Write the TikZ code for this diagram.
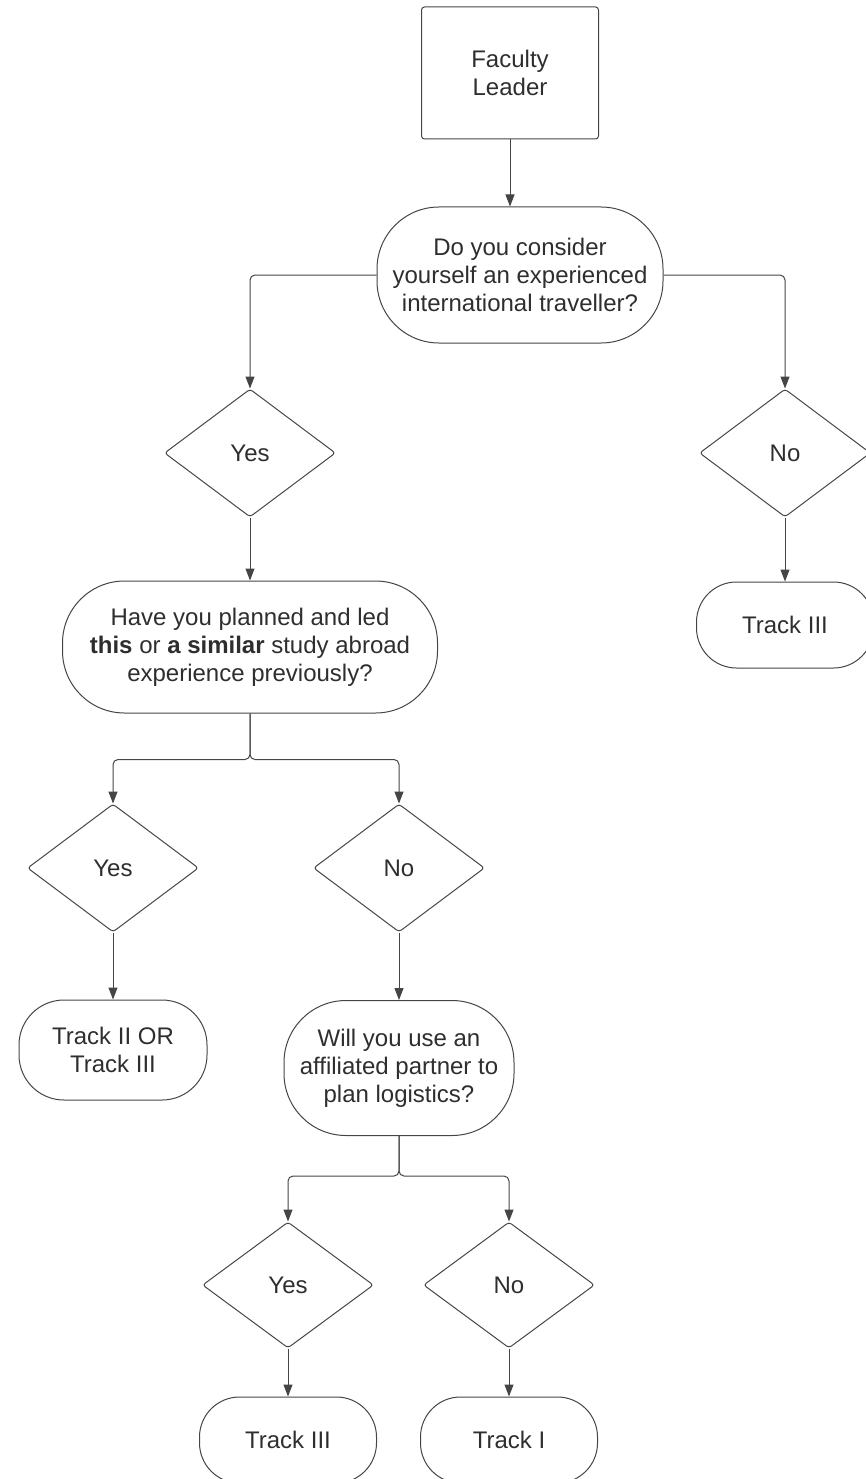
\documentclass[tikz,border=0pt]{standalone}
\usepackage{fontspec}
\setmainfont{Liberation Sans}
\usepackage{tikz}
\usetikzlibrary{arrows.meta}
\usetikzlibrary{shapes.geometric}
\definecolor{ink}{HTML}{2E2E2E}
\definecolor{edge}{HTML}{454545}

\begin{document}
\begin{tikzpicture}[x=1pt, y=-1pt,
  every node/.style={draw=edge, line width=1pt, text=ink, align=center, inner sep=0pt,
    font=\fontsize{24}{28}\selectfont},
  start/.style={rectangle, rounded corners=3pt, minimum width=177pt, minimum height=132pt},
  quest/.style={rectangle, rounded corners=62pt},
  answer/.style={diamond, rounded corners=3pt, minimum width=171pt, minimum height=128pt},
  track/.style={rectangle, rounded corners=40pt, minimum width=177pt, minimum height=86pt},
  arr/.style={-{Triangle[length=12pt,width=9pt]}, draw=edge, line width=1pt, rounded corners=5pt}]
\useasboundingbox (0,0) rectangle (866,1479);
\clip (0,0) rectangle (866,1479);

\node[start] (lead) at (510,73) {Faculty\\Leader};
\node[quest, minimum width=286pt, minimum height=136pt] (q1) at (520,275)
  {Do you consider\\yourself an experienced\\international traveller?};
\node[answer] (yes1) at (250,453) {Yes};
\node[answer] (no1) at (785,453) {No};
\node[track] (trkA) at (785,625) {Track III};
\node[quest, minimum width=375pt, minimum height=132pt] (q2) at (250,647)
  {Have you planned and led\\\textbf{this} or \textbf{a similar} study abroad\\experience previously?};
\node[answer] (yes2) at (113,868) {Yes};
\node[answer] (no2) at (399,868) {No};
\node[track, minimum width=188pt, minimum height=100pt, rounded corners=45pt] (trkB) at (113,1050) {Track II OR\\Track III};
\node[quest, minimum width=230pt, minimum height=135pt] (q3) at (399,1068)
  {Will you use an\\affiliated partner to\\plan logistics?};
\node[answer, minimum height=126pt] (yes3) at (288,1285) {Yes};
\node[answer, minimum height=126pt] (no3) at (509,1285) {No};
\node[track] (trkC) at (288,1440) {Track III};
\node[track] (trkD) at (509,1440) {Track I};

\draw[arr] (lead.south) -- (lead.south |- q1.north);
\draw[arr] (q1.west) -| (yes1.north);
\draw[arr] (q1.east) -| (no1.north);
\draw[arr] (yes1.south) -- (q2.north);
\draw[arr] (no1.south) -- (trkA.north);
\draw[arr] (q2.south) -- ++(0,46) -| (yes2.north);
\draw[arr] (q2.south) -- ++(0,46) -| (no2.north);
\draw[arr] (yes2.south) -- (trkB.north);
\draw[arr] (no2.south) -- (q3.north);
\draw[arr] (q3.south) -- ++(0,40) -| (yes3.north);
\draw[arr] (q3.south) -- ++(0,40) -| (no3.north);
\draw[arr] (yes3.south) -- (trkC.north);
\draw[arr] (no3.south) -- (trkD.north);
\end{tikzpicture}
\end{document}
